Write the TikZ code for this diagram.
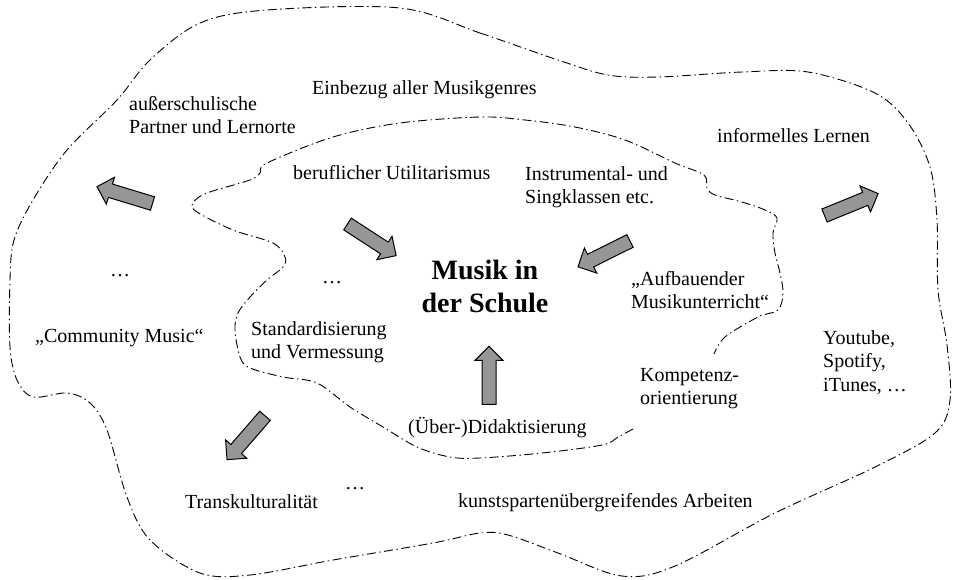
\documentclass[tikz,border=0pt]{standalone}
\usepackage{fontspec}
\setmainfont{Liberation Serif}
\begin{document}
\begin{tikzpicture}[x=1pt,y=-1pt,
  txt/.style={font=\fontsize{20}{23.5}\selectfont, inner sep=0pt, align=left, anchor=base west},
  bigtxt/.style={font=\fontsize{28}{33}\selectfont\bfseries, inner sep=0pt, align=center, anchor=base},
  boundary/.style={line width=0.9pt, dash pattern=on 9pt off 3.5pt on 1.4pt off 3.5pt},
  arrowfill/.style={draw=black, line width=1pt, fill={rgb,255:red,150;green,150;blue,150}, line join=miter},
  blockarrow/.pic={\draw[arrowfill] (0,-7) -- (44,-7) -- (44,-14) -- (58,0) -- (44,14) -- (44,7) -- (0,7) -- cycle;}
]
\useasboundingbox (0,0) rectangle (955,579);

% outer boundary
\draw[boundary] plot[smooth cycle, tension=0.55] coordinates {
 (400,8) (480,33) (558,60) (608,75) (658,77) (742,72) (808,72) (875,93) (908,123)
 (930,167) (937,220) (938,290) (947,345) (950,400) (935,433) (875,467) (775,513)
 (675,566) (622,576) (558,553) (508,535) (480,533) (433,543) (333,560) (250,575)
 (200,573) (150,540) (127,497) (107,430) (90,403) (67,393) (33,397) (17,380)
 (10,347) (10,280) (14,240) (33,200) (67,150) (117,100) (150,60) (200,23) (267,10)};

% inner boundary (open)
\draw[boundary] plot[smooth, tension=0.55] coordinates {
 (633,429) (618,437) (602,445) (542,453) (480,458) (450,457) (417,447) (383,427)
 (350,407) (317,383) (283,377) (250,368) (240,357) (235,330) (238,313) (250,297)
 (267,280) (283,267) (285,257) (273,243) (233,230) (197,212) (193,203) (207,193)
 (250,180) (260,173) (267,163) (333,137) (400,123) (480,117) (525,120) (575,127)
 (625,140) (675,163) (704,175) (707,188) (715,195) (742,202) (765,210) (777,218)
 (773,233) (775,253) (780,273) (783,293) (778,310) (758,317) (725,337) (714,354)};

% texts
\node[bigtxt] (musik) at (485,312) {Musik in\\der Schule};
\node[txt] (einbezug) at (312,94) {Einbezug aller Musikgenres};
\node[txt] (ausser) at (129,133.5) {außerschulische\\Partner und Lernorte};
\node[txt] (beruf) at (293,179) {beruflicher Utilitarismus};
\node[txt] (instr) at (525,203.5) {Instrumental- und\\Singklassen etc.};
\node[txt] (informell) at (717,142) {informelles Lernen};
\node[txt] (dotsa) at (110,276) {…};
\node[txt] (dotsb) at (322,283) {…};
\node[txt] (aufbau) at (631,308.5) {„Aufbauender\\Musikunterricht“};
\node[txt] (community) at (35,342) {„Community Music“};
\node[txt] (standard) at (251,358.5) {Standardisierung\\und Vermessung};
\node[txt] (kompetenz) at (640,404.5) {Kompetenz-\\orientierung};
\node[txt] (youtube) at (823,391) {Youtube,\\Spotify,\\iTunes, …};
\node[txt] (didakt) at (408,433) {(Über-)Didaktisierung};
\node[txt] (transk) at (185,508) {Transkulturalität};
\node[txt] (dotsc) at (345,489) {…};
\node[txt] (kunst) at (458,507) {kunstspartenübergreifendes Arbeiten};

% block arrows
\pic[rotate=163.1] (arrA) at (152.5,203.5) {blockarrow};
\pic[rotate=-33.0] (arrB) at (347.5,224) {blockarrow};
\pic[rotate=206.4] (arrC) at (630,241) {blockarrow};
\pic[rotate=22.2] (arrD) at (824.5,215.5) {blockarrow};
\pic[rotate=90] (arrE) at (489,404.3) {blockarrow};
\pic[rotate=229.1] (arrF) at (265,415.8) {blockarrow};
\end{tikzpicture}
\end{document}
